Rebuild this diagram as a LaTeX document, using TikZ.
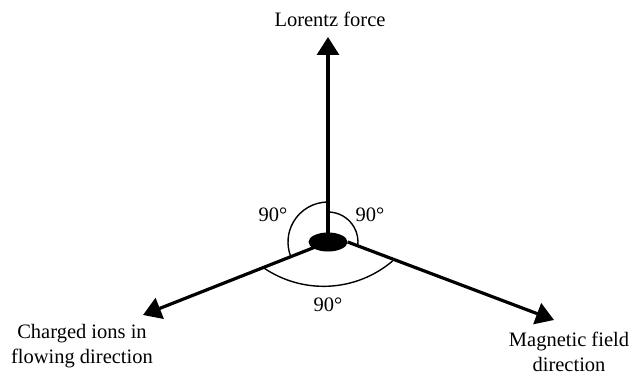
\documentclass[tikz,border=0pt]{standalone}
\usepackage{fontspec}
\setmainfont{Liberation Serif}
\usetikzlibrary{arrows.meta, positioning, shapes.geometric}

\begin{document}
\begin{tikzpicture}[x=1pt, y=1pt, every node/.style={font=\fontsize{20.5}{25.5}\selectfont},
		vec/.style={line width=3.2pt, -{Triangle[width=22pt, length=18pt]}},
		angmark/.style={line width=1.4pt}]
		\useasboundingbox (-328,-133) rectangle (306,242);
		\node[ellipse, fill, inner sep=0pt, minimum width=39pt, minimum height=19pt] (ion) at (0,0) {};
		\coordinate (up) at (0,205);
		\coordinate (lt) at (-185,-73);
		\coordinate (rt) at (226,-78);
		\draw[vec] (ion.center) -- (up);
		\draw[vec] (ion.center) -- (lt);
		\draw[vec] (ion.east) -- (rt);
		\draw[angmark] (0,40) arc[start angle=90, end angle=201, radius=40];
		\draw[angmark] (0,30) arc[start angle=90, end angle=-8, radius=30];
		\draw[angmark] (-64.7,-25.6) arc[start angle=235.5, end angle=310.5, radius=106.5];
		\node (force) at (2,222.5) {Lorentz force};
		\node[align=center] (ions) at (-246,-104) {Charged ions in\\flowing direction};
		\node[align=center] (field) at (241,-110) {Magnetic field\\direction};
		\node (angl) at (-55,27) {90°};
		\node (angr) at (42,27) {90°};
		\node (angb) at (0,-63) {90°};
	\end{tikzpicture}
\end{document}
